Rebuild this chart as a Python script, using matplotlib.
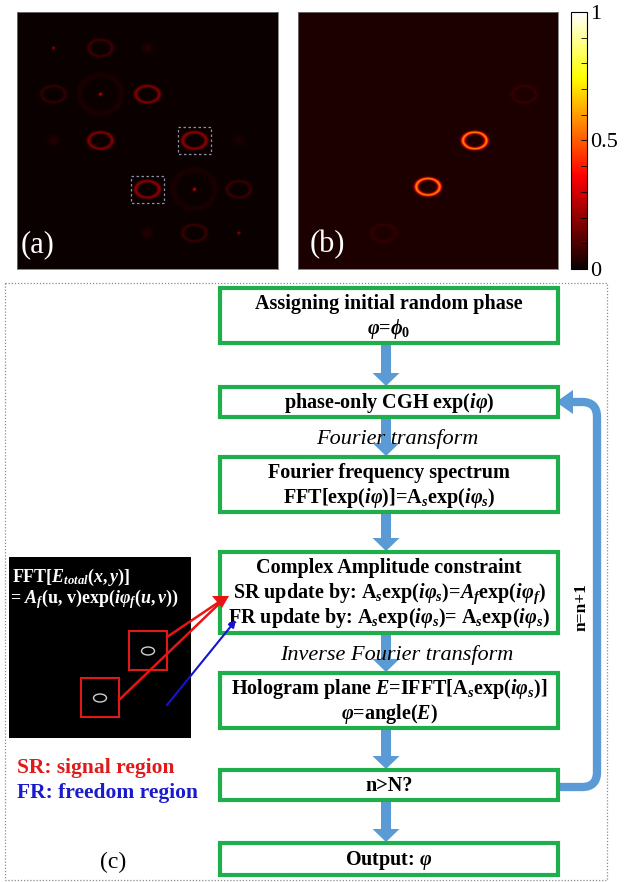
import numpy as np
import matplotlib.pyplot as plt
from matplotlib.patches import Rectangle, Ellipse, PathPatch, Polygon
from matplotlib.path import Path
from matplotlib.ticker import MultipleLocator

plt.rcParams['font.family'] = ['Liberation Serif', 'DejaVu Serif']
plt.rcParams['mathtext.fontset'] = 'custom'
plt.rcParams['mathtext.rm'] = 'Liberation Serif:bold'
plt.rcParams['mathtext.it'] = 'Liberation Serif:italic:bold'
plt.rcParams['mathtext.bf'] = 'Liberation Serif:bold'

# ---- panel (a): spot positions (fraction of panel, y from top) and peak intensity
ring_a_x = [0.32, 0.14, 0.50, 0.32, 0.68, 0.50, 0.85, 0.68]
ring_a_y = [0.14, 0.32, 0.32, 0.50, 0.50, 0.69, 0.69, 0.86]
ring_a_amp = [0.08, 0.06, 0.18, 0.18, 0.20, 0.20, 0.07, 0.07]
dot_a_x = [0.14, 0.32, 0.68, 0.85]
dot_a_y = [0.14, 0.32, 0.69, 0.86]
dot_a_amp = [0.25, 0.35, 0.35, 0.25]
blob_a_x = [0.50, 0.14, 0.85, 0.50]
blob_a_y = [0.14, 0.50, 0.50, 0.86]
blob_a_amp = [0.04, 0.04, 0.03, 0.04]
halo_a_x = [0.32, 0.68]
halo_a_y = [0.32, 0.69]
halo_a_amp = [0.025, 0.025]
boxed_x = [0.68, 0.50]
boxed_y = [0.50, 0.69]

# ---- panel (b)
ring_b_x = [0.68, 0.50, 0.87, 0.33]
ring_b_y = [0.50, 0.68, 0.32, 0.86]
ring_b_amp = [0.55, 0.55, 0.035, 0.03]
b_background = 0.03

cbar_ticks = [0, 0.5, 1]
cbar_labels = ['0', '0.5', '1']

# ---- panel (c): flowchart
box_lines = [
    ['Assigning initial random phase', r'$\varphi$=$\phi_0$'],
    [r'phase-only CGH exp($i\varphi$)'],
    ['Fourier frequency spectrum', r'FFT[exp($i\varphi$)]=$\mathrm{A}_s$exp($i\varphi_s$)'],
    ['Complex Amplitude constraint',
     r'SR update by: $\mathrm{A}_s$exp($i\varphi_s$)=$A_f$exp($i\varphi_f$)',
     r'FR update by: $\mathrm{A}_s$exp($i\varphi_s$)= $\mathrm{A}_s$exp($i\varphi_s$)'],
    [r'Hologram plane $E$=IFFT[$\mathrm{A}_s$exp($i\varphi_s$)]', r'$\varphi$=angle($E$)'],
    ['n>N?'],
    [r'Output: $\varphi$'],
]
step_labels = {1: 'Fourier transform', 3: 'Inverse Fourier transform'}
loop_label = 'n=n+1'
inset_lines = [r'FFT[$E_{total}(x, y)$]', r'= $A_f$(u, v)exp($i\varphi_f(u, v)$)']

W, H = 631, 882
fig = plt.figure(figsize=(W / 100, H / 100), dpi=100)


def px_axes(x0, y0, x1, y1):
    return fig.add_axes([x0 / W, 1 - y1 / H, (x1 - x0) / W, (y1 - y0) / H])


N = 300
u = (np.arange(N) + 0.5) / N
X, Y = np.meshgrid(u, u)


def add_rings(img, xs, ys, amps, a=0.045, b=0.032, w=0.0055):
    for cx, cy, amp in zip(xs, ys, amps):
        r = np.hypot((X - cx) / a, (Y - cy) / b)
        img += amp * np.exp(-((r - 1) * b / w) ** 2)


def add_spots(img, xs, ys, amps, s):
    for cx, cy, amp in zip(xs, ys, amps):
        img += amp * np.exp(-((X - cx) ** 2 + (Y - cy) ** 2) / (2 * s * s))


img_a = np.zeros((N, N))
add_rings(img_a, ring_a_x, ring_a_y, ring_a_amp)
add_spots(img_a, dot_a_x, dot_a_y, dot_a_amp, 0.004)
add_spots(img_a, blob_a_x, blob_a_y, blob_a_amp, 0.015)
add_rings(img_a, halo_a_x, halo_a_y, halo_a_amp, a=0.08, b=0.075, w=0.012)

img_b = np.full((N, N), b_background)
add_rings(img_b, ring_b_x, ring_b_y, ring_b_amp)

# ---- overlay for the flowchart (pixel coordinates)
ax = fig.add_axes([0, 0, 1, 1])
ax.set_xlim(0, W)
ax.set_ylim(H, 0)
ax.axis('off')

ax.add_patch(Rectangle((5, 283), 602, 597, fill=False, edgecolor='#8c8c8c',
                       lw=0.9, linestyle=(0, (1, 1.5))))

green = '#1fae4c'
blue = '#5b9bd5'
box_top = [288, 387, 457, 552, 673, 770, 843]
box_bot = [343, 417, 512, 633, 728, 800, 875]
bx0, bx1 = 220, 558
xc = (bx0 + bx1) / 2

for i in range(len(box_top) - 1):
    y0, y1 = box_bot[i] + 2, box_top[i + 1] - 1
    ax.arrow(386, y0, 0, y1 - y0, width=10, head_width=27, head_length=13,
             length_includes_head=True, color=blue, lw=0, zorder=2)

for i, lines in enumerate(box_lines):
    t, b = box_top[i], box_bot[i]
    ax.add_patch(Rectangle((bx0, t), bx1 - bx0, b - t, facecolor='white',
                           edgecolor=green, lw=3, zorder=3))
    mid = (t + b) / 2 + 1
    n = len(lines)
    for k, s in enumerate(lines):
        ax.text(xc, mid + (k - (n - 1) / 2) * 25, s, ha='center', va='center',
                fontsize=14.5, fontweight='bold', zorder=4)

for i, s in step_labels.items():
    ax.text(xc + 8, (box_bot[i] + box_top[i + 1]) / 2 + 2, s, ha='center', va='center',
            fontsize=16, style='italic', zorder=4)

# feedback loop
verts = [(558, 787), (582, 787), (597, 787), (597, 772), (597, 417), (597, 402),
         (582, 402), (571, 402)]
codes = [Path.MOVETO, Path.LINETO, Path.CURVE3, Path.CURVE3, Path.LINETO,
         Path.CURVE3, Path.CURVE3, Path.LINETO]
ax.add_patch(PathPatch(Path(verts, codes), fill=False, edgecolor=blue, lw=6,
                       capstyle='butt', joinstyle='round', zorder=2))
ax.add_patch(Polygon([(556, 402), (573, 390), (573, 414)], closed=True,
                     facecolor=blue, edgecolor='none', zorder=2))
ax.text(582, 607, loop_label, rotation=90, ha='center', va='center',
        fontsize=12.5, fontweight='bold')

# inset of the target spectrum
ax.add_patch(Rectangle((9, 557), 182, 181, facecolor='black', edgecolor='none'))
for (x0, y0) in [(129, 631), (81, 678)]:
    ax.add_patch(Rectangle((x0, y0), 38, 39, fill=False, edgecolor='#e01818', lw=1.5))
    ax.add_patch(Ellipse((x0 + 19, y0 + 20), 13, 8, fill=False, edgecolor='#cfcfcf', lw=1))
ax.text(12, 577, inset_lines[0], color='white', fontsize=13, fontweight='bold',
        va='center')
ax.text(10, 599, inset_lines[1], color='white', fontsize=13, fontweight='bold',
        va='center')

red = '#e81414'
ax.plot([167, 222], [637, 600], color=red, lw=1.8, zorder=5)
ax.plot([119, 222], [700, 601], color=red, lw=1.8, zorder=5)
ax.add_patch(Polygon([(229, 596), (212, 596), (222, 608)], closed=True,
                     facecolor=red, edgecolor='none', zorder=5))
ax.annotate('', xy=(236, 620), xytext=(167, 705),
            arrowprops=dict(arrowstyle='-|>', color='#1414d2', lw=1.5,
                            mutation_scale=10, shrinkA=0, shrinkB=0), zorder=5)

ax.text(17, 768, 'SR: signal region', color='#e01a1a', fontsize=15.5,
        fontweight='bold', va='center')
ax.text(17, 793, 'FR: freedom region', color='#1a1acd', fontsize=15.5,
        fontweight='bold', va='center')
ax.text(113, 862, '(c)', fontsize=17, ha='center', va='center')

# ---- panels (a) and (b)
for img, (x0, x1), label, lx in [(img_a, (17, 278), '(a)', 0.012),
                                 (img_b, (298, 558), '(b)', 0.045)]:
    pax = px_axes(x0, 12, x1, 269)
    im = pax.imshow(img, cmap='hot', vmin=0, vmax=1, extent=(0, 1, 1, 0),
                    interpolation='bilinear', aspect='auto')
    pax.set_xlim(0, 1)
    pax.set_ylim(1, 0)
    pax.set_xticks([])
    pax.set_yticks([])
    for sp in pax.spines.values():
        sp.set_edgecolor('#777777')
        sp.set_linewidth(0.6)
    pax.text(lx, 0.905, label, color='white', fontsize=22, va='center')
    if label == '(a)':
        for cx, cy in zip(boxed_x, boxed_y):
            pax.add_patch(Rectangle((cx - 0.065, cy - 0.053), 0.13, 0.106, fill=False,
                                    edgecolor='#8a90a8', lw=0.9, linestyle=(0, (2, 2))))

cax = px_axes(571, 12, 587, 269)
cb = fig.colorbar(im, cax=cax)
cb.set_ticks(cbar_ticks)
cb.set_ticklabels(cbar_labels)
cax.yaxis.set_minor_locator(MultipleLocator(0.1))
cax.tick_params(which='both', direction='in', length=4, width=0.6, labelsize=16, pad=2)
cb.outline.set_linewidth(0.8)

fig.savefig('out.png', dpi=100)
